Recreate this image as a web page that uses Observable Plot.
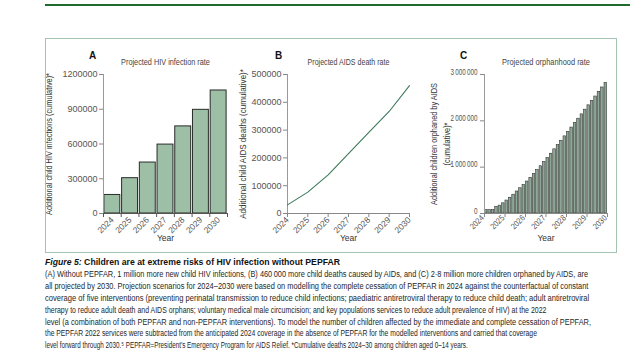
<!DOCTYPE html>
<html>
<head>
<meta charset="utf-8">
<script src="https://cdn.jsdelivr.net/npm/d3@7"></script>
<script src="https://cdn.jsdelivr.net/npm/@observablehq/plot@0.6"></script>
<style>
  html, body { margin: 0; padding: 0; background: #fff; }
  #root { position: relative; width: 639px; height: 352px; overflow: hidden; background: #fff; }
  .panel { position: absolute; top: 38px; }
  .panel svg { background: transparent !important; overflow: visible; }
</style>
</head>
<body>
<div id="root">
  <div style="position:absolute;left:45px;top:4px;width:585px;height:2px;background:#1f6b2d"></div>
  <div id="pa" class="panel" style="left:45px;width:190px;height:214px"></div>
  <div id="pb" class="panel" style="left:230px;width:195px;height:214px"></div>
  <div id="pc" class="panel" style="left:425px;width:191px;height:214px"></div>
  <div style="position:absolute;left:45px;top:38px;width:570px;height:213px;border:1px solid #a3c4b3;pointer-events:none"></div>
  <svg id="cap" width="639" height="100" style="position:absolute;left:0;top:252px;overflow:visible"></svg>
</div>
<script>
// ---------- data ----------
const aYears = [2024, 2025, 2026, 2027, 2028, 2029, 2030];
const aValues = [160000, 305000, 440000, 595000, 752000, 895000, 1062000];
const aYTicks = [0, 300000, 600000, 900000, 1200000];

const bYears = [2024, 2025, 2026, 2027, 2028, 2029, 2030];
const bValues = [31000, 77000, 139000, 215000, 292000, 367000, 460000];
const bYTicks = [0, 100000, 200000, 300000, 400000, 500000];

const cYears = [2024, 2025, 2026, 2027, 2028, 2029, 2030];
const cValues = [72000, 72000, 72000, 145000, 170000, 220000, 280000, 340000, 405000, 475000,
  545000, 615000, 690000, 770000, 850000, 935000, 1020000, 1110000, 1200000, 1290000,
  1385000, 1475000, 1570000, 1665000, 1760000, 1855000, 1950000, 2045000, 2140000, 2240000,
  2335000, 2430000, 2525000, 2625000, 2720000, 2820000];
const cPeriodsPerYear = 6;
const cYTicks = [0, 1000000, 2000000, 3000000];

const titles = ["Projected HIV infection rate", "Projected AIDS death rate", "Projected orphanhood rate"];
const letters = ["A", "B", "C"];
const yLabels = [
  "Additional child HIV infections (cumulative)*",
  "Additional child AIDS deaths (cumulative)*",
  "Additional children orphaned by AIDS\n(cumulative)*"
];
const xLabel = "Year";

const capLines = [
  "Children are at extreme risks of HIV infection without PEPFAR",
  "(A) Without PEPFAR, 1 million more new child HIV infections, (B) 460\u2009000 more child deaths caused by AIDs, and (C) 2\u00b78 million more children orphaned by AIDS, are",
  "all projected by 2030. Projection scenarios for 2024\u20132030 were based on modelling the complete cessation of PEPFAR in 2024 against the counterfactual of constant",
  "coverage of five interventions (preventing perinatal transmission to reduce child infections; paediatric antiretroviral therapy to reduce child death; adult antiretroviral",
  "therapy to reduce adult death and AIDS orphans; voluntary medical male circumcision; and key populations services to reduce adult prevalence of HIV) at the 2022",
  "level (a combination of both PEPFAR and non-PEPFAR interventions). To model the number of children affected by the immediate and complete cessation of PEPFAR,",
  "the PEPFAR 2022 services were subtracted from the anticipated 2024 coverage in the absence of PEPFAR for the modelled interventions and carried that coverage",
  "level forward through 2030.\u2075 PEPFAR=President\u2019s Emergency Program for AIDS Relief. *Cumulative deaths 2024\u201330 among children aged 0\u201314 years."
];
const capRight = [340, 589, 589, 590, 547, 592, 538, 468];

// target text lengths (px) to emulate the condensed journal typeface
const titleLen = [89, 82, 88];
const yLabelLen = [142, 150, 122];

// ---------- styles ----------
const NARROW = "'Liberation Sans Narrow', 'Arial Narrow', 'Liberation Sans', sans-serif";
const REG = "'Liberation Sans', Arial, sans-serif";
const baseStyle = {fontFamily: REG, fontSize: "9px", color: "#555", background: "transparent", overflow: "visible"};

function decor(i, labelDx) {
  return [
    Plot.text([titles[i]], {frameAnchor: "top", dy: -10, fontFamily: NARROW, fontSize: 8.5, fill: "#444"}),
    Plot.text([letters[i]], {frameAnchor: "top-left", dx: [-11, -9, -21][i], dy: -23, textAnchor: "middle", fontFamily: REG, fontSize: 10, fontWeight: "bold", fill: "#111"}),
    Plot.text([yLabels[i]], {frameAnchor: "left", dx: labelDx, rotate: -90, textAnchor: "middle", lineAnchor: "middle", fontFamily: NARROW, fontSize: 9, fill: "#333", lineHeight: 1.4}),
    Plot.text([xLabel], {frameAnchor: "bottom", dy: 27, fontFamily: NARROW, fontSize: 8.5, fill: "#333"})
  ];
}

// condense a text element horizontally (along its own direction)
function squeeze(t, k) {
  const x = +t.getAttribute("x") || 0, y = +t.getAttribute("y") || 0;
  const tr = t.getAttribute("transform") || "";
  t.removeAttribute("x"); t.removeAttribute("y");
  t.setAttribute("transform", `${tr} translate(${x},${y}) scale(${k},1)`);
}
function fitPanel(svg, i) {
  const all = Array.from(svg.querySelectorAll("text"));
  const title = all.find(t => t.textContent === titles[i]);
  if (title) { const L = title.getComputedTextLength(); if (L > 0) squeeze(title, titleLen[i] / L); }
  const lab = all.find(t => t.textContent.startsWith("Additional"));
  if (lab) {
    const first = lab.querySelector("tspan") || lab;
    const L = first.getComputedTextLength();
    if (L > 0) squeeze(lab, yLabelLen[i] / L);
  }
}

// ---------- Panel A ----------
const aData = aYears.map((yr, i) => ({year: yr, v: aValues[i]}));
const aBounds = aYears.map(y => y - 0.5).concat([aYears[aYears.length - 1] + 0.5]);
const pa = Plot.plot({
  width: 190, height: 214,
  marginLeft: 58, marginRight: 8, marginTop: 36, marginBottom: 39,
  style: baseStyle,
  x: {type: "linear", domain: [aBounds[0], aBounds[aBounds.length - 1]]},
  y: {domain: [0, 1200000]},
  marks: [
    Plot.rect(aData, {x1: d => d.year - 0.5, x2: d => d.year + 0.5, y1: 0, y2: "v",
      insetLeft: 0.9, insetRight: 0.9, fill: "#9dbfa6", stroke: "#2b2b2b", strokeWidth: 1}),
    Plot.ruleY([0], {stroke: "#555"}),
    Plot.ruleX([aBounds[0]], {stroke: "#999"}),
    Plot.axisY({ticks: aYTicks, tickSize: 4, tickPadding: 2, tickFormat: d3.format("d"), label: null, stroke: "#888", fill: "#555", fontSize: 9}),
    Plot.axisX({ticks: aBounds, tickSize: 4, tickFormat: () => "", label: null, stroke: "#555"}),
    Plot.axisX({ticks: aYears, tickSize: 0, tickPadding: 5, tickRotate: -45, tickFormat: d => String(d), label: null, fill: "#555", fontSize: 8.5}),
    ...decor(0, -52)
  ]
});
document.getElementById("pa").append(pa);
fitPanel(pa, 0);

// ---------- Panel B ----------
const bData = bYears.map((yr, i) => ({year: yr, v: bValues[i]}));
const pb = Plot.plot({
  width: 195, height: 214,
  marginLeft: 57, marginRight: 16, marginTop: 36, marginBottom: 39,
  style: baseStyle,
  x: {type: "linear", domain: [bYears[0], bYears[bYears.length - 1]]},
  y: {domain: [0, 500000]},
  marks: [
    Plot.ruleY([0], {stroke: "#888"}),
    Plot.ruleX([bYears[0]], {stroke: "#999"}),
    Plot.line(bData, {x: "year", y: "v", stroke: "#3b7a5b", strokeWidth: 1.1}),
    Plot.axisY({ticks: bYTicks, tickSize: 4, tickPadding: 2, tickFormat: d3.format("d"), label: null, stroke: "#888", fill: "#555", fontSize: 9}),
    Plot.axisX({ticks: bYears, tickSize: 4, tickPadding: 1, tickRotate: -45, tickFormat: d => String(d), label: null, stroke: "#888", fill: "#555", fontSize: 8.5}),
    ...decor(1, -42)
  ]
});
document.getElementById("pb").append(pb);
fitPanel(pb, 1);

// ---------- Panel C ----------
const cData = cValues.map((v, i) => ({i, v}));
const thin = d => d3.format(",d")(d).replace(/,/g, "\u2009");
const pc = Plot.plot({
  width: 191, height: 214,
  marginLeft: 59, marginRight: 9, marginTop: 36, marginBottom: 39,
  style: baseStyle,
  x: {type: "linear", domain: [cYears[0], cYears[cYears.length - 1]]},
  y: {domain: [0, 3000000]},
  marks: [
    Plot.rect(cData, {x1: d => cYears[0] + d.i / cPeriodsPerYear, x2: d => cYears[0] + (d.i + 1) / cPeriodsPerYear,
      y1: 0, y2: "v", insetLeft: 0.45, insetRight: 0.45, fill: "#8ea896", stroke: "#333", strokeWidth: 0.6}),
    Plot.ruleY([0], {stroke: "#888"}),
    Plot.ruleX([cYears[0]], {stroke: "#999"}),
    Plot.axisY({ticks: cYTicks, tickSize: 4, tickPadding: 3, tickFormat: thin, label: null, stroke: "#888", fill: "#555", fontFamily: NARROW, fontSize: 9}),
    Plot.axisX({ticks: cYears, tickSize: 4, tickPadding: 1, tickRotate: -45, tickFormat: d => String(d), label: null, stroke: "#888", fill: "#555", fontFamily: NARROW, fontSize: 8.5}),
    ...decor(2, -45)
  ]
});
document.getElementById("pc").append(pc);
fitPanel(pc, 2);
// condensed tick labels for panel C
{
  const yt = Array.from(pc.querySelectorAll('g[aria-label="y-axis tick label"] text'));
  const maxL = Math.max(...yt.map(t => t.getComputedTextLength()));
  if (maxL > 0) yt.forEach(t => squeeze(t, 27 / maxL));
  pc.querySelectorAll('g[aria-label="x-axis tick label"] text').forEach(t => squeeze(t, 0.85));
}

// ---------- Caption ----------
const NS = "http://www.w3.org/2000/svg";
const cap = document.getElementById("cap");
capLines.forEach((line, i) => {
  const t = document.createElementNS(NS, "text");
  const y = 13 + i * 11.9;
  t.setAttribute("x", 0);
  t.setAttribute("y", 0);
  t.setAttribute("font-family", NARROW);
  t.setAttribute("font-size", "9.3");
  t.setAttribute("fill", i === 0 ? "#111" : "#262626");
  if (i === 0) {
    t.setAttribute("font-weight", "bold");
    const s1 = document.createElementNS(NS, "tspan");
    s1.setAttribute("font-style", "italic");
    s1.textContent = "Figure 5: ";
    const s2 = document.createElementNS(NS, "tspan");
    s2.textContent = line;
    t.append(s1, s2);
  } else {
    t.textContent = line;
  }
  cap.append(t);
  const len = t.getComputedTextLength();
  const k = len > 0 ? (capRight[i] - 45) / len : 1;
  t.setAttribute("transform", `translate(45,${y}) scale(${k},1)`);
});
</script>
</body>
</html>
